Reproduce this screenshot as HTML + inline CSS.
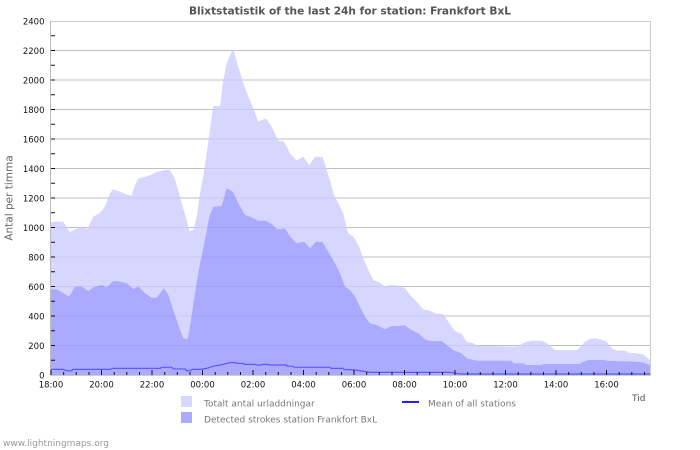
<!DOCTYPE html>
<html><head><meta charset="utf-8"><style>
html,body{margin:0;padding:0;background:#fff;}
svg{display:block;}
text{font-family:"DejaVu Sans","Liberation Sans",sans-serif;}
</style></head><body>
<svg width="700" height="450" viewBox="0 0 700 450" xmlns="http://www.w3.org/2000/svg">
<rect width="700" height="450" fill="#fff"/>
<!-- gridlines under -->
<g stroke="#cccccc" stroke-width="1">
<line x1="51" y1="21.5" x2="650" y2="21.5"/>
<line x1="51" y1="50.5" x2="650" y2="50.5"/>
<line x1="51" y1="80" x2="650" y2="80"/>
<line x1="51" y1="109.5" x2="650" y2="109.5"/>
<line x1="51" y1="139" x2="650" y2="139"/>
<line x1="51" y1="168.5" x2="650" y2="168.5"/>
<line x1="51" y1="198" x2="650" y2="198"/>
<line x1="51" y1="227.5" x2="650" y2="227.5"/>
<line x1="51" y1="257" x2="650" y2="257"/>
<line x1="51" y1="286.5" x2="650" y2="286.5"/>
<line x1="51" y1="316" x2="650" y2="316"/>
<line x1="51" y1="345.5" x2="650" y2="345.5"/>
</g>
<g transform="translate(0,375) scale(1,-0.1475)">
<polygon fill="#d6d6ff" points="50.7,0 50.7,1035 55,1040 63,1040 70,967 75,988 81.7,1008 87.3,988 90,1028 93.3,1073 100,1100 105,1141 109.3,1220 112.7,1259 120,1243 126.7,1223 131.7,1214 135,1288 138.3,1331 148.3,1349 156.7,1376 165,1390 170,1390 174,1345 176.7,1288 181.7,1164 186.7,1051 189.3,976 193.3,983 196.7,1073 200,1232 203.3,1345 208.3,1582 213.3,1824 220,1824 223.3,2000 226.7,2113 231.7,2192 233.3,2208 238.3,2090 243.3,1977 248.3,1887 253.3,1808 258.3,1718 266,1740 271.7,1683 278.3,1589 284,1582 290,1503 296.7,1453 303.3,1480 309.3,1424 315,1480 322.7,1476 328.3,1356 334,1220 338.3,1164 343.3,1096 346.7,994 348.3,960 353.3,938 358.3,881 363.3,791 368.3,712 373.3,644 380,626 385,599 390,610 398.3,606 405,588 410,542 416.7,497 423.3,445 430,436 435,418 443.3,413 448.3,361 455,298 461.7,278 466.7,226 473.3,215 478.3,197 491.7,197 517,192 521.7,210 526.7,226 531.7,233 541.7,233 546.7,215 551.7,188 555,169 576.7,169 580,188 585,226 590,244 595,249 600,242 606.7,226 611.7,181 616.7,165 625,165 628.3,151 636.7,147 643.3,140 646.7,120 650,102 650,0"/>
<polygon fill="#aaaaff" points="50.7,0 50.7,580 56.7,581 63.3,554 69.3,531 75,599 81.7,599 88.3,569 93.3,594 101.7,610 106.7,594 113.3,637 120,633 126.7,621 133.3,583 138.3,599 145,554 151.7,524 156.7,524 164,588 168.3,542 173.3,441 178.3,339 183.3,249 187.7,244 190,328 195,554 200,757 205,915 209.3,1073 213.3,1141 221.7,1146 226.7,1266 232.7,1243 238.3,1164 245,1085 251.7,1069 258.3,1046 266,1046 271.7,1024 277.3,988 285,994 290,938 296.7,893 304,904 310,859 316,904 322.7,900 328.3,836 335,757 340,689 345,599 350,576 355,531 360,463 365,395 370,350 376.7,339 385,310 391.7,332 398.3,332 405,337 410,310 418.3,282 425,242 430,230 441.7,230 446.7,203 453.3,169 461.7,147 466.7,113 476.7,97 511.7,97 513.3,79 523.3,79 526.7,68 541.7,68 543.3,75 580,75 583.3,90 588.3,102 603.3,102 606.7,97 636.7,90 643.3,84 650,68 650,0"/>
<polyline fill="none" stroke="#5a5aff" stroke-width="1.2" vector-effect="non-scaling-stroke" points="50.7,38 63.3,38 66.7,29 71.7,29 73,38 110,38 112,45 160,45 161.7,52 171.7,52 173.3,41 185,41 186.7,29 190,29 192,38 200,38 206.7,45 213.3,60 223.3,72 230,84 236,84 237,79 243.3,79 244,72 255,72 256,68 261.7,68 262,72 268.3,72 269,68 286.7,68 287,59 293.3,59 294,52 330,52 331,45 343,45 344,38 355,34 370,18 450,18 460,7 650,7"/>
</g>
<!-- gridlines over fills -->
<g stroke="rgba(110,110,140,0.13)" stroke-width="1">
<line x1="51" y1="139" x2="650" y2="139"/>
<line x1="51" y1="168.5" x2="650" y2="168.5"/>
<line x1="51" y1="198" x2="650" y2="198"/>
<line x1="51" y1="227.5" x2="650" y2="227.5"/>
<line x1="51" y1="257" x2="650" y2="257"/>
<line x1="51" y1="286.5" x2="650" y2="286.5"/>
<line x1="51" y1="316" x2="650" y2="316"/>
<line x1="51" y1="345.5" x2="650" y2="345.5"/>
<line x1="51" y1="50.5" x2="650" y2="50.5"/>
<line x1="51" y1="80" x2="650" y2="80"/>
<line x1="51" y1="109.5" x2="650" y2="109.5"/>
</g>
<!-- frame -->
<line x1="50.5" y1="21" x2="50.5" y2="375.5" stroke="#bbbbbb" stroke-width="1"/>
<line x1="650.5" y1="21" x2="650.5" y2="375.5" stroke="#cccccc" stroke-width="1"/>
<line x1="50" y1="375.5" x2="651" y2="375.5" stroke="#cccccc" stroke-width="1"/>
<!-- y ticks -->
<g stroke="#111" stroke-width="1">
<line x1="51" y1="35.75" x2="55" y2="35.75"/>
<line x1="51" y1="65.25" x2="55" y2="65.25"/>
<line x1="51" y1="94.75" x2="55" y2="94.75"/>
<line x1="51" y1="124.25" x2="55" y2="124.25"/>
<line x1="51" y1="153.75" x2="55" y2="153.75"/>
<line x1="51" y1="183.25" x2="55" y2="183.25"/>
<line x1="51" y1="212.75" x2="55" y2="212.75"/>
<line x1="51" y1="242.25" x2="55" y2="242.25"/>
<line x1="51" y1="271.75" x2="55" y2="271.75"/>
<line x1="51" y1="301.25" x2="55" y2="301.25"/>
<line x1="51" y1="330.75" x2="55" y2="330.75"/>
<line x1="51" y1="360.25" x2="55" y2="360.25"/>
<line x1="51" y1="50.5" x2="55" y2="50.5"/>
<line x1="51" y1="80" x2="55" y2="80"/>
<line x1="51" y1="109.5" x2="55" y2="109.5"/>
<line x1="51" y1="139" x2="55" y2="139"/>
<line x1="51" y1="168.5" x2="55" y2="168.5"/>
<line x1="51" y1="198" x2="55" y2="198"/>
<line x1="51" y1="227.5" x2="55" y2="227.5"/>
<line x1="51" y1="257" x2="55" y2="257"/>
<line x1="51" y1="286.5" x2="55" y2="286.5"/>
<line x1="51" y1="316" x2="55" y2="316"/>
<line x1="51" y1="345.5" x2="55" y2="345.5"/>
</g>
<!-- x ticks -->
<g stroke="#111" stroke-width="1">
<line x1="51" y1="370" x2="51" y2="375"/>
<line x1="63.7" y1="372" x2="63.7" y2="375"/>
<line x1="76.3" y1="372" x2="76.3" y2="375"/>
<line x1="89" y1="372" x2="89" y2="375"/>
<line x1="101.5" y1="370" x2="101.5" y2="375"/>
<line x1="114.2" y1="372" x2="114.2" y2="375"/>
<line x1="126.8" y1="372" x2="126.8" y2="375"/>
<line x1="139.5" y1="372" x2="139.5" y2="375"/>
<line x1="152" y1="370" x2="152" y2="375"/>
<line x1="164.7" y1="372" x2="164.7" y2="375"/>
<line x1="177.3" y1="372" x2="177.3" y2="375"/>
<line x1="190" y1="372" x2="190" y2="375"/>
<line x1="202.5" y1="370" x2="202.5" y2="375"/>
<line x1="215.2" y1="372" x2="215.2" y2="375"/>
<line x1="227.8" y1="372" x2="227.8" y2="375"/>
<line x1="240.5" y1="372" x2="240.5" y2="375"/>
<line x1="253" y1="370" x2="253" y2="375"/>
<line x1="265.7" y1="372" x2="265.7" y2="375"/>
<line x1="278.3" y1="372" x2="278.3" y2="375"/>
<line x1="291" y1="372" x2="291" y2="375"/>
<line x1="303.5" y1="370" x2="303.5" y2="375"/>
<line x1="316.2" y1="372" x2="316.2" y2="375"/>
<line x1="328.8" y1="372" x2="328.8" y2="375"/>
<line x1="341.5" y1="372" x2="341.5" y2="375"/>
<line x1="354" y1="370" x2="354" y2="375"/>
<line x1="366.7" y1="372" x2="366.7" y2="375"/>
<line x1="379.3" y1="372" x2="379.3" y2="375"/>
<line x1="392" y1="372" x2="392" y2="375"/>
<line x1="404.5" y1="370" x2="404.5" y2="375"/>
<line x1="417.2" y1="372" x2="417.2" y2="375"/>
<line x1="429.8" y1="372" x2="429.8" y2="375"/>
<line x1="442.5" y1="372" x2="442.5" y2="375"/>
<line x1="455" y1="370" x2="455" y2="375"/>
<line x1="467.7" y1="372" x2="467.7" y2="375"/>
<line x1="480.3" y1="372" x2="480.3" y2="375"/>
<line x1="493" y1="372" x2="493" y2="375"/>
<line x1="505.5" y1="370" x2="505.5" y2="375"/>
<line x1="518.2" y1="372" x2="518.2" y2="375"/>
<line x1="530.8" y1="372" x2="530.8" y2="375"/>
<line x1="543.5" y1="372" x2="543.5" y2="375"/>
<line x1="556" y1="370" x2="556" y2="375"/>
<line x1="568.7" y1="372" x2="568.7" y2="375"/>
<line x1="581.3" y1="372" x2="581.3" y2="375"/>
<line x1="594" y1="372" x2="594" y2="375"/>
<line x1="606.5" y1="370" x2="606.5" y2="375"/>
<line x1="619.2" y1="372" x2="619.2" y2="375"/>
<line x1="631.8" y1="372" x2="631.8" y2="375"/>
<line x1="644.5" y1="372" x2="644.5" y2="375"/>
</g>
<!-- y labels -->
<g font-size="8.5" fill="#111" text-anchor="end">
<text x="44.5" y="24.3">2400</text>
<text x="44.5" y="53.8">2200</text>
<text x="44.5" y="83.3">2000</text>
<text x="44.5" y="112.8">1800</text>
<text x="44.5" y="142.3">1600</text>
<text x="44.5" y="171.8">1400</text>
<text x="44.5" y="201.3">1200</text>
<text x="44.5" y="230.8">1000</text>
<text x="44.5" y="260.3">800</text>
<text x="44.5" y="289.8">600</text>
<text x="44.5" y="319.3">400</text>
<text x="44.5" y="348.8">200</text>
<text x="44.5" y="378.3">0</text>
</g>
<!-- x labels -->
<g font-size="8.5" fill="#111" text-anchor="middle">
<text x="51" y="387.5">18:00</text>
<text x="101.5" y="387.5">20:00</text>
<text x="152" y="387.5">22:00</text>
<text x="202.5" y="387.5">00:00</text>
<text x="253" y="387.5">02:00</text>
<text x="303.5" y="387.5">04:00</text>
<text x="354" y="387.5">06:00</text>
<text x="404.5" y="387.5">08:00</text>
<text x="455" y="387.5">10:00</text>
<text x="505.5" y="387.5">12:00</text>
<text x="556" y="387.5">14:00</text>
<text x="606.5" y="387.5">16:00</text>
</g>
<!-- title -->
<text x="350" y="14.5" font-size="10.5" font-weight="bold" fill="#555" text-anchor="middle" textLength="322" lengthAdjust="spacingAndGlyphs">Blixtstatistik of the last 24h for station: Frankfort BxL</text>
<!-- y axis title -->
<text transform="translate(12.5,198) rotate(-90)" font-size="10.5" fill="#666" text-anchor="middle">Antal per timma</text>
<!-- Tid -->
<text x="632" y="401" font-size="9" fill="#555">Tid</text>
<!-- legend -->
<rect x="181" y="396" width="11" height="11" fill="#d6d6ff"/>
<rect x="181" y="412" width="11" height="11" fill="#aaaaff"/>
<text x="204" y="406.5" font-size="9" fill="#777">Totalt antal urladdningar</text>
<text x="204" y="422.5" font-size="9" fill="#777">Detected strokes station Frankfort BxL</text>
<line x1="402" y1="402" x2="419" y2="402" stroke="#2222ee" stroke-width="2"/>
<text x="428" y="406.5" font-size="9" fill="#777">Mean of all stations</text>
<!-- footer -->
<text x="3" y="446" font-size="9" fill="#999">www.lightningmaps.org</text>
</svg>
</body></html>
